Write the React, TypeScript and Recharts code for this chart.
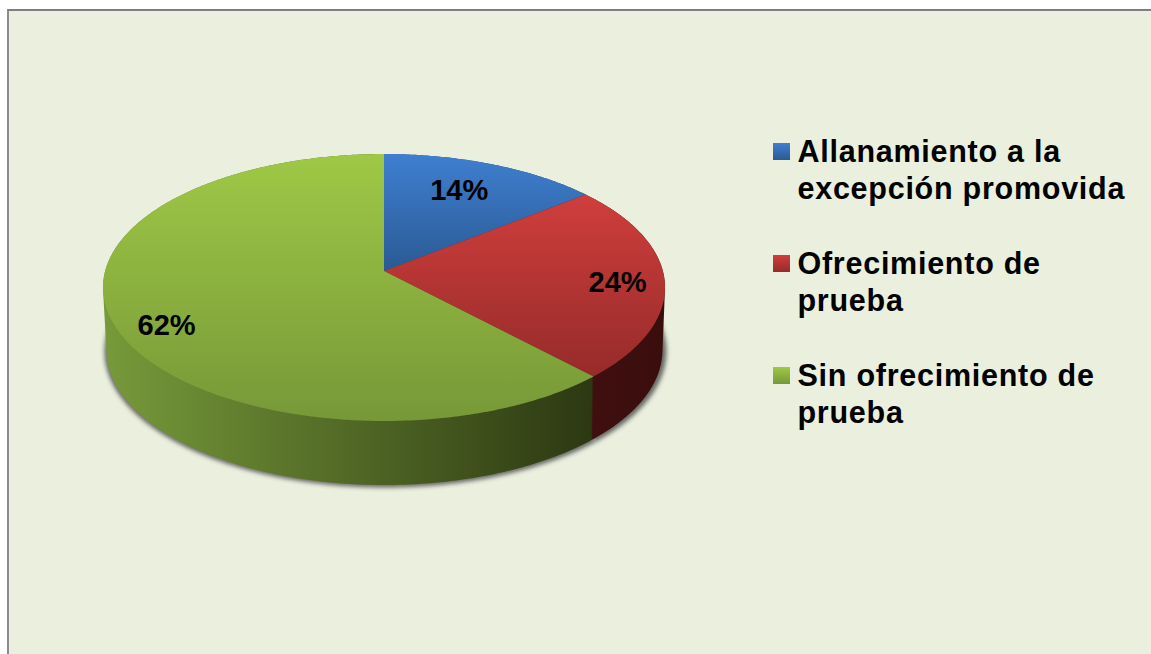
import React from 'react';
import { PieChart, Pie, Cell, Legend } from 'recharts';

const categories = ['Allanamiento a la excepción promovida', 'Ofrecimiento de prueba', 'Sin ofrecimiento de prueba'];
const shares = [14, 24, 62];
const rows = categories.map((name, i) => ({ name, value: shares[i] }));

const topStops = [['#3F7FD0', '#2A5A94'], ['#CF3E3C', '#962B2A'], ['#9FC846', '#779838']];
const wallStops = [['#2A5A94', '#1A3557'], ['#4E1715', '#3A0D0D'], ['#779A3A', '#2C3812']];
const labelNudge = [[0.72, -4, -4], [0.84, -2, 4], [0.8, 0, 14]];

const FONT = '"Liberation Sans", Arial, sans-serif';
const TILT = 0.4645;
const TILT_SKEW = 0.011;
const FACE_RY = 0.475;
const APEX_DROP = 16.5;
const WALL_DROP = 79;
const WALL_RX = 278;
const WALL_RY = 135;
const WALL_LAYERS = 40;

function rim(cx: number, cy: number, rx: number, ry: number, deg: number, extraTilt = 0) {
  const a = (deg * Math.PI) / 180;
  const dx = Math.cos(a);
  const dy = -(TILT - TILT_SKEW * Math.sin(a) + extraTilt) * Math.sin(a);
  const A = (dx * dx) / (rx * rx) + (dy * dy) / (ry * ry);
  const B = (-2 * APEX_DROP * dy) / (ry * ry);
  const C = (APEX_DROP * APEX_DROP) / (ry * ry) - 1;
  const t = (-B + Math.sqrt(B * B - 4 * A * C)) / (2 * A);
  return { x: cx + t * dx, y: cy + t * dy };
}

function arc(cx: number, cy: number, rx: number, ry: number, from: number, to: number, extraTilt = 0) {
  const n = Math.max(2, Math.ceil(Math.abs(to - from) * 2));
  const pts: string[] = [];
  for (let i = 0; i <= n; i++) {
    const p = rim(cx, cy, rx, ry, from + ((to - from) * i) / n, extraTilt);
    pts.push(`${p.x.toFixed(2)} ${p.y.toFixed(2)}`);
  }
  return pts;
}

function TopFace(p: any) {
  const pts = arc(p.cx, p.cy, p.outerRadius, p.outerRadius * FACE_RY, p.startAngle, p.endAngle);
  return <path d={`M${p.cx} ${p.cy}L${pts.join('L')}Z`} fill={p.fill} stroke="none" />;
}

function WallFace(p: any) {
  const faceRy = p.outerRadius * FACE_RY;
  let d = '';
  for (let s = 0; s <= WALL_LAYERS; s++) {
    const f = s / WALL_LAYERS;
    const cx = p.cx + 0.5 * f;
    const cy = p.cy + (WALL_DROP - APEX_DROP) * f;
    const rx = p.outerRadius + (WALL_RX - p.outerRadius) * f;
    const ry = faceRy + (WALL_RY - faceRy) * f;
    d += `M${cx} ${cy}L${arc(cx, cy, rx, ry, p.startAngle, p.endAngle, 0.006 * f).join('L')}Z`;
  }
  return <path d={d} fill={p.fill} stroke="none" />;
}

function ShadowFace(p: any) {
  const cy = p.cy + WALL_DROP - APEX_DROP + 1.5;
  const low = arc(p.cx + 1.5, cy, WALL_RX + 3, WALL_RY + 1, p.startAngle, p.endAngle);
  return (
    <path
      d={`M${p.cx} ${cy}L${low.join('L')}Z`}
      fill="#3c3c3c"
      fillOpacity={0.75}
      stroke="none"
      filter="url(#wallShadow)"
    />
  );
}

function PercentLabel(p: any) {
  const idx = p.index as number;
  const [frac, dx, dy] = labelNudge[idx];
  const q = rim(p.cx, p.cy, p.outerRadius, p.outerRadius * FACE_RY, p.midAngle);
  const x = p.cx + (q.x - p.cx) * frac + dx;
  const y = p.cy + (q.y - p.cy) * frac + dy;
  return (
    <text x={x} y={y} textAnchor="middle" dominantBaseline="central" fontFamily={FONT} fontWeight="bold" fontSize={29} fill="#000">
      {`${shares[idx]}%`}
    </text>
  );
}

function LegendBox() {
  return (
    <div style={{ fontFamily: FONT, fontWeight: 'bold', fontSize: 30.5, letterSpacing: 0.74, lineHeight: '37px', color: '#000' }}>
      {categories.map((name, i) => (
        <div key={name} style={{ position: 'relative', paddingLeft: 24.5, marginBottom: 38 }}>
          <span
            style={{
              position: 'absolute',
              left: 0,
              top: 10,
              width: 17,
              height: 17,
              background: `linear-gradient(${topStops[i][0]}, ${topStops[i][1]})`,
            }}
          />
          {name}
        </div>
      ))}
    </div>
  );
}

export default function App() {
  return (
    <div style={{ position: 'fixed', left: 0, top: 0, width: 1151, height: 654, background: '#fff', overflow: 'hidden' }}>
      <div
        style={{
          position: 'absolute',
          left: 7,
          top: 9,
          right: 0,
          bottom: 0,
          boxSizing: 'border-box',
          borderLeft: '2px solid #8c8c8c',
          borderTop: '2px solid #808080',
          background: '#EAEFDE',
        }}
      />
      <div style={{ position: 'absolute', left: 0, top: 0 }}>
        <PieChart width={1151} height={654} margin={{ top: 0, right: 0, bottom: 0, left: 0 }}>
          <defs>
            <filter id="wallShadow" x="-5%" y="-5%" width="110%" height="110%">
              <feGaussianBlur stdDeviation="2" />
            </filter>
            {topStops.map((s, i) => (
              <linearGradient key={i} id={`top${i}`} x1="0" y1="0" x2="0" y2="1">
                <stop offset="0" stopColor={s[0]} />
                <stop offset="1" stopColor={s[1]} />
              </linearGradient>
            ))}
            {wallStops.map((s, i) => (
              <linearGradient key={i} id={`wall${i}`} x1="0" y1="0" x2="1" y2="0">
                <stop offset="0" stopColor={s[0]} />
                <stop offset="1" stopColor={s[1]} />
              </linearGradient>
            ))}
          </defs>
          <Pie
            data={rows}
            dataKey="value"
            nameKey="name"
            cx={384}
            cy={271}
            outerRadius={281}
            startAngle={90}
            endAngle={-270}
            stroke="none"
            legendType="none"
            shape={ShadowFace}
            isAnimationActive={false}
          />
          <Pie
            data={rows}
            dataKey="value"
            nameKey="name"
            cx={384}
            cy={271}
            outerRadius={281}
            startAngle={90}
            endAngle={-270}
            stroke="none"
            legendType="none"
            shape={WallFace}
            isAnimationActive={false}
          >
            {rows.map((r, i) => (
              <Cell key={r.name} fill={`url(#wall${i})`} />
            ))}
          </Pie>
          <Pie
            data={rows}
            dataKey="value"
            nameKey="name"
            cx={384}
            cy={271}
            outerRadius={281}
            startAngle={90}
            endAngle={-270}
            stroke="none"
            shape={TopFace}
            label={PercentLabel}
            labelLine={false}
            isAnimationActive={false}
          >
            {rows.map((r, i) => (
              <Cell key={r.name} fill={`url(#top${i})`} />
            ))}
          </Pie>
          <Legend
            layout="vertical"
            content={<LegendBox />}
            wrapperStyle={{ position: 'absolute', left: 773, top: 133, width: 370, bottom: 'auto', right: 'auto' }}
          />
        </PieChart>
      </div>
    </div>
  );
}
